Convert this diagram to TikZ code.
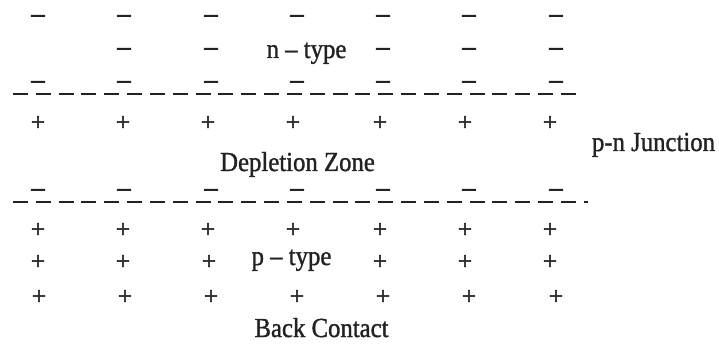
\documentclass[tikz,border=0pt]{standalone}
\usepackage{fontspec}
\setmainfont{Liberation Serif}
\newfontfamily\labelfont[FakeStretch=0.9, FakeBold=1.2]{Liberation Serif}
\newfontfamily\signfont[FakeBold=2.5]{Liberation Serif}
\definecolor{ink}{HTML}{222222}
\begin{document}
\begin{tikzpicture}[x=1pt,y=-1pt,
  caption/.style={inner sep=0pt, anchor=base, text=ink,
    font=\labelfont\fontsize{27.5}{32}\selectfont},
  poscharge/.style={inner sep=0pt, text=ink,
    font=\signfont\fontsize{25}{30}\selectfont, text height=12.65pt, text depth=0pt},
  negcharge/.style={inner sep=0pt, anchor=base, text=ink,
    font=\signfont\fontsize{29}{34}\selectfont},
  boundary/.style={draw=ink, line width=1.8pt, dash pattern=on 15pt off 7.83pt}]
\useasboundingbox (0,0) rectangle (719,347);

% n-type region: fixed negative charges (placed by baseline)
\foreach \r/\y in {a/25.5, c/91.5, d/199.5}
  \foreach \x [count=\i] in {38,124,211,297,383,469,556}
    \node[negcharge] (m\r\i) at (\x,\y) {−};
\foreach \x/\i in {124/2, 211/3, 383/5, 469/6, 556/7}
  \node[negcharge] (mb\i) at (\x,58.5) {−};

% positive charges in the depletion zone and p-type region
\foreach \r/\y in {a/124, b/231}
  \foreach \x [count=\i] in {38,123,208,293,380,465,550}
    \node[poscharge] (p\r\i) at (\x,\y) {+};
\foreach \x/\i in {38/1, 123/2, 209/3, 380/5, 465/6, 550/7}
  \node[poscharge] (pc\i) at (\x,263) {+};
\foreach \x [count=\i] in {39,125,211,297,383,469,556}
  \node[poscharge] (pd\i) at (\x,298) {+};

% edges of the depletion zone
\coordinate (topw) at (13,94);
\coordinate (tope) at (576,94);
\coordinate (botw) at (13,202);
\coordinate (bote) at (588,202);
\draw[boundary] (topw) -- (tope);
\draw[boundary] (botw) -- (bote);

% region labels
\node[caption] (ntype) at (306.5,58) {n – type};
\node[caption] (depl) at (297.5,171) {Depletion Zone};
\node[caption] (pnj) at (653.5,151) {p-n Junction};
\node[caption] (ptype) at (291.5,265) {p – type};
\node[caption] (back) at (321.5,337) {Back Contact};
\end{tikzpicture}
\end{document}
